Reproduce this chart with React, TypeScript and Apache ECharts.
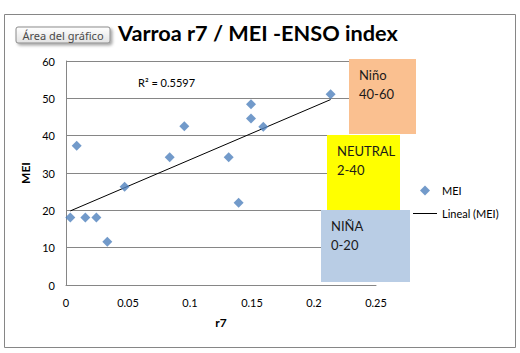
import React, { useEffect, useRef } from "react";
import * as echarts from "echarts";

const r7Values = [0.0035, 0.0086, 0.0156, 0.0245, 0.0333, 0.0473, 0.0836, 0.0954, 0.1312, 0.1392, 0.1492, 0.1492, 0.1591, 0.2134];
const meiValues = [18.1, 37.3, 18.1, 18.1, 11.6, 26.3, 34.2, 42.5, 34.2, 22.0, 48.4, 44.6, 42.4, 51.1];
const xTicks = { min: 0, max: 0.25, interval: 0.05 };
const yTicks = { min: 0, max: 60, interval: 10 };
const titleText = "Varroa r7 / MEI -ENSO index";
const r2Text = "R² = 0.5597";
const zoneLabels = ["Niño\n40-60", "NEUTRAL\n2-40", "NIÑA\n0-20"];
const seriesNames = ["MEI", "Lineal (MEI)"];

function linearFit(xs: number[], ys: number[]) {
  const n = xs.length;
  let sx = 0, sy = 0, sxx = 0, sxy = 0;
  for (let i = 0; i < n; i++) {
    sx += xs[i]; sy += ys[i]; sxx += xs[i] * xs[i]; sxy += xs[i] * ys[i];
  }
  const slope = (n * sxy - sx * sy) / (n * sxx - sx * sx);
  const intercept = (sy - slope * sx) / n;
  return { slope, intercept };
}

export default function App() {
  const ref = useRef<HTMLDivElement>(null);
  useEffect(() => {
    if (!ref.current) return;
    const chart = echarts.init(ref.current, null, { renderer: "svg" });
    const fit = linearFit(r7Values, meiValues);
    const xMin = Math.min(...r7Values);
    const xMax = Math.max(...r7Values);
    const trend = [
      [xMin, fit.intercept + fit.slope * xMin],
      [xMax, fit.intercept + fit.slope * xMax],
    ];
    const font = "Lato, 'Open Sans', sans-serif";
    const grey = "#868686";
    chart.setOption({
      animation: false,
      backgroundColor: "#ffffff",
      textStyle: { fontFamily: font },
      title: {
        text: titleText,
        left: 113,
        top: 17,
        textStyle: { fontFamily: font, fontSize: 21.7, fontWeight: "bold", color: "#000" },
      },
      grid: { left: 66, top: 61, right: 144, bottom: 68, containLabel: false },
      xAxis: {
        type: "value",
        min: xTicks.min,
        max: xTicks.max,
        interval: xTicks.interval,
        name: "r7",
        nameLocation: "middle",
        nameGap: 31,
        nameTextStyle: { fontFamily: font, fontSize: 12, fontWeight: "bold", color: "#000" },
        axisLine: { show: true, lineStyle: { color: grey, width: 1 } },
        axisTick: { show: false },
        axisLabel: { fontFamily: font, fontSize: 11, color: "#000", margin: 12 },
        splitLine: { show: false },
      },
      yAxis: {
        type: "value",
        min: yTicks.min,
        max: yTicks.max,
        interval: yTicks.interval,
        name: "MEI",
        nameLocation: "middle",
        nameGap: 30,
        nameTextStyle: { fontFamily: font, fontSize: 12, fontWeight: "bold", color: "#000" },
        axisLine: { show: true, lineStyle: { color: grey, width: 1 } },
        axisTick: { show: false },
        axisLabel: { fontFamily: font, fontSize: 11, color: "#000", margin: 11 },
        splitLine: { show: true, lineStyle: { color: grey, width: 1 } },
      },
      legend: [
        {
          orient: "vertical",
          left: 415,
          top: 180,
          itemWidth: 10,
          itemHeight: 10,
          selectedMode: false,
          textStyle: { fontFamily: font, fontSize: 11, color: "#000", padding: [0, 0, 0, 7] },
          data: [{ name: seriesNames[0], icon: "diamond" }],
        },
        {
          orient: "vertical",
          left: 408,
          top: 203,
          itemWidth: 24,
          itemHeight: 1,
          selectedMode: false,
          textStyle: { fontFamily: font, fontSize: 11, color: "#000" },
          data: [{ name: seriesNames[1], icon: "rect", itemStyle: { color: "#000" } }],
        },
      ],
      series: [
        {
          name: seriesNames[0],
          type: "scatter",
          symbol: "diamond",
          symbolSize: 10,
          itemStyle: { color: "#4F81BD" },
          data: r7Values.map((x, i) => [x, meiValues[i]]),
          z: 3,
        },
        {
          name: seriesNames[1],
          type: "line",
          showSymbol: false,
          symbol: "none",
          lineStyle: { color: "#000", width: 1 },
          itemStyle: { color: "#000" },
          data: trend,
          z: 2,
        },
      ],
      graphic: [
        {
          type: "rect",
          shape: { x: 4.5, y: 14.5, width: 511, height: 333 },
          style: { fill: "none", stroke: grey, lineWidth: 1 },
          silent: true,
          z: 0,
        },
        {
          type: "rect",
          shape: { x: 16, y: 27, width: 94, height: 16, r: 2 },
          style: {
            fill: new echarts.graphic.LinearGradient(0, 0, 0, 1, [
              { offset: 0, color: "#ffffff" },
              { offset: 1, color: "#e2e2e2" },
            ]),
            stroke: "#8a8a8a",
            lineWidth: 1,
            shadowBlur: 3,
            shadowOffsetX: 2,
            shadowOffsetY: 2,
            shadowColor: "rgba(0,0,0,0.35)",
          },
          z: 10,
        },
        {
          type: "text",
          x: 63,
          y: 35,
          style: {
            text: "Área del gráfico",
            fontFamily: "'Noto Sans', sans-serif",
            fontSize: 11,
            fill: "#4a4a4a",
            align: "center",
            verticalAlign: "middle",
          },
          z: 11,
        },
        {
          type: "text",
          x: 138,
          y: 82,
          style: {
            text: r2Text,
            fontFamily: font,
            fontSize: 11,
            fill: "#000",
            verticalAlign: "middle",
          },
          z: 5,
        },
        {
          type: "rect",
          shape: { x: 349, y: 59, width: 67, height: 75 },
          style: { fill: "#FAC090" },
          z: 6,
        },
        {
          type: "text",
          x: 359,
          y: 65,
          style: { text: zoneLabels[0], fontFamily: font, fontSize: 13, lineHeight: 19, fill: "#1a1a1a" },
          z: 7,
        },
        {
          type: "rect",
          shape: { x: 327, y: 135, width: 73, height: 75 },
          style: { fill: "#FFFF00" },
          z: 6,
        },
        {
          type: "text",
          x: 337,
          y: 141,
          style: { text: zoneLabels[1], fontFamily: font, fontSize: 13, lineHeight: 19, fill: "#1a1a1a" },
          z: 7,
        },
        {
          type: "rect",
          shape: { x: 321, y: 210, width: 89, height: 72 },
          style: { fill: "#B9CDE5" },
          z: 6,
        },
        {
          type: "text",
          x: 331,
          y: 216,
          style: { text: zoneLabels[2], fontFamily: font, fontSize: 13, lineHeight: 19, fill: "#1a1a1a" },
          z: 7,
        },
      ],
    });
    return () => chart.dispose();
  }, []);
  return (
    <div
      ref={ref}
      style={{ position: "fixed", left: 0, top: 0, width: 520, height: 353 }}
    />
  );
}
